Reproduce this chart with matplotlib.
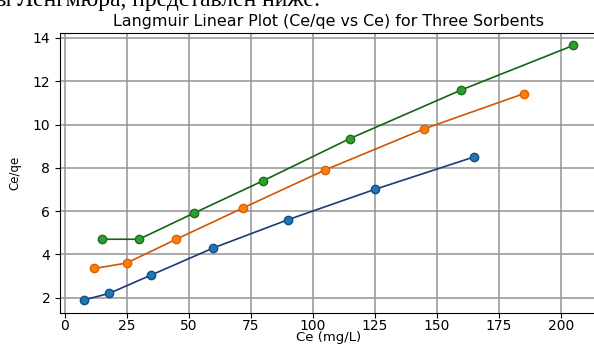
import matplotlib.pyplot as plt

# Langmuir linear form data
ce_1 = [8, 18, 35, 60, 90, 125, 165]
ceqe_1 = [1.9, 2.2, 3.05, 4.3, 5.6, 7.0, 8.5]

ce_2 = [12, 25, 45, 72, 105, 145, 185]
ceqe_2 = [3.35, 3.6, 4.7, 6.15, 7.9, 9.8, 11.42]

ce_3 = [15, 30, 52, 80, 115, 160, 205]
ceqe_3 = [4.7, 4.7, 5.9, 7.4, 9.35, 11.6, 13.65]

fig = plt.figure(figsize=(5.94, 3.45), dpi=100)
ax = fig.add_axes([0.101, 0.094, 0.905, 0.811])

# cut-off line of document text above the chart
fig.text(0.54, 1 - 6 / 345, 'изотермы Ленгмюра, представлен ниже:', ha='right',
         va='baseline', fontsize=17, family='Liberation Serif')

ax.plot(ce_1, ceqe_1, color='#1b3a75', lw=1.2, marker='o', ms=6,
        mfc='#1f77b4', mec='#154f80', zorder=3)
ax.plot(ce_2, ceqe_2, color='#d45500', lw=1.2, marker='o', ms=6,
        mfc='#ff7f0e', mec='#d86300', zorder=3)
ax.plot(ce_3, ceqe_3, color='#146414', lw=1.2, marker='o', ms=6,
        mfc='#2ca02c', mec='#1d6e1d', zorder=3)

ax.set_xticks([0, 25, 50, 75, 100, 125, 150, 175, 200])
ax.set_yticks([2, 4, 6, 8, 10, 12, 14])
ax.grid(True, color='#939393', lw=1.1)
ax.tick_params(labelsize=10)
ax.tick_params(axis='x', pad=1)
ax.set_title('Langmuir Linear Plot (Ce/qe vs Ce) for Three Sorbents', fontsize=11.4, pad=5)
ax.set_xlabel('Ce (mg/L)', fontsize=9.5, labelpad=-1.2)
ax.set_ylabel('Ce/qe', fontsize=8.5, labelpad=8)

fig.savefig('out.png', dpi=100)
